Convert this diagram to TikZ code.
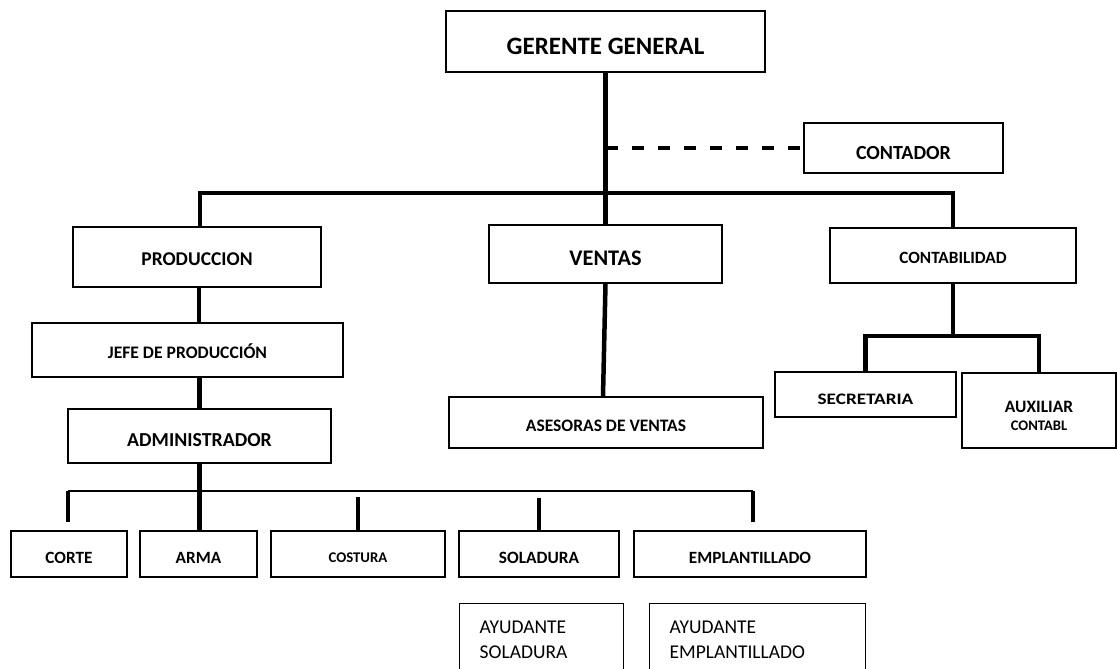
\documentclass[tikz,border=0pt]{standalone}
\usepackage{fontspec}
\setmainfont{Carlito}
\usepackage{graphicx}
\tikzset{
  box/.style={draw, line width=1.4pt, inner sep=0pt, text depth=0pt, font=\bfseries},
  conn/.style={line width=4.5pt},
  thinbus/.style={line width=1.5pt},
  dashconn/.style={line width=3.5pt, dash pattern=on 12pt off 14pt},
  helper/.style={draw, line width=1.4pt, anchor=north west, align=left, inner xsep=20pt, inner ysep=17pt, font=\fontsize{19.5}{25}\selectfont}
}
\begin{document}
\begin{tikzpicture}[x=1pt,y=-1pt]
\useasboundingbox (0,0) rectangle (1117,669);
\clip (0,0) rectangle (1117,669);
% boxes
\node[box, minimum width=319pt, minimum height=61pt, text height=27pt] (gg) at (605.5,41.5) {\fontsize{25}{30}\selectfont GERENTE GENERAL};
\node[box, minimum width=199pt, minimum height=50pt, text height=22pt] (contador) at (903.5,148) {\fontsize{20}{24}\selectfont CONTADOR\hspace{20pt}};
\node[box, minimum width=248pt, minimum height=60pt, text height=16.6pt] (prod) at (197,257) {\fontsize{19.5}{23}\selectfont PRODUCCION};
\node[box, minimum width=233pt, minimum height=58pt, text height=22.4pt] (ventas) at (605.5,254) {\fontsize{22.3}{26}\selectfont VENTAS};
\node[box, minimum width=246pt, minimum height=55pt, text height=16pt] (contab) at (953,255.5) {\fontsize{17.2}{20}\selectfont CONTABILIDAD};
\node[box, minimum width=311pt, minimum height=54pt, text height=16.3pt] (jefe) at (187.5,350) {\fontsize{17.6}{21}\selectfont JEFE DE PRODUCCIÓN};
\node[box, minimum width=263pt, minimum height=54pt, text height=21.7pt] (admin) at (199.5,436) {\fontsize{19.8}{24}\selectfont ADMINISTRADOR};
\node[box, minimum width=314pt, minimum height=51pt, text height=18.3pt] (asesoras) at (606,422.5) {\fontsize{17.5}{21}\selectfont ASESORAS DE VENTAS};
\node[box, minimum width=181pt, minimum height=45pt, text height=19.3pt] (secret) at (865.5,394.5) {\fontsize{16}{19}\selectfont\scalebox{1.2}[1]{SECRETARIA}\hspace{13pt}};
\node[box, minimum width=154pt, minimum height=75pt, text height=39pt] (aux) at (1039,410.5) {\vbox{\baselineskip=18pt\halign{\hfil#\hfil\cr\fontsize{17.4}{18}\selectfont AUXILIAR\cr\fontsize{14.6}{18}\selectfont CONTABL\cr}}};
\node[box, minimum width=116pt, minimum height=46pt, text height=19.6pt] (corte) at (69,554) {\fontsize{17.2}{20}\selectfont CORTE};
\node[box, minimum width=117pt, minimum height=46pt, text height=19.6pt] (arma) at (198.5,554) {\fontsize{17.2}{20}\selectfont ARMA};
\node[box, minimum width=174pt, minimum height=46pt, text height=16.5pt] (costura) at (358,554) {\fontsize{14.8}{18}\selectfont COSTURA};
\node[box, minimum width=160pt, minimum height=46pt, text height=19.6pt] (solad) at (539,554) {\fontsize{17.3}{20}\selectfont SOLADURA};
\node[box, minimum width=232pt, minimum height=46pt, text height=19.6pt] (empl) at (750,554) {\fontsize{17.2}{20}\selectfont EMPLANTILLADO};
\node[helper, text width=124pt] (aysol) at (459,603) {AYUDANTE\\SOLADURA};
\node[helper, text width=176pt] (ayemp) at (649,603) {AYUDANTE\\EMPLANTILLADO};
% bus coordinates
\coordinate (bus) at (605,193);
\coordinate (cbus) at (954,336);
\coordinate (abus) at (200,491);
% connectors
\draw[conn] (gg.south) -- (gg.south |- ventas.north);
\draw[dashconn] (gg.south |- contador.west) -- (contador.west);
\draw[conn] ([xshift=3pt]prod.north) |- (bus) -| (contab.north);
\draw[conn] ([xshift=2pt]prod.south) -- ([xshift=2pt]prod.south |- jefe.north);
\draw[conn] (admin.north |- jefe.south) -- (admin.north);
\draw[conn] (admin.south) -- (admin.south |- arma.north);
\draw[conn] (ventas.south) -- ([xshift=-3pt]asesoras.north);
\draw[conn] (contab.south) -- (contab.south |- cbus);
\draw[conn] (secret.north) |- (cbus) -| (aux.north);
\draw[thinbus] ([xshift=-1pt]corte.north |- abus) -- ([xshift=3pt]empl.north |- abus);
\draw[conn] ([xshift=-1pt]corte.north |- abus) -- ([xshift=-1pt,yshift=8pt]corte.north);
\draw[conn] ([yshift=33pt]costura.north) -- (costura.north);
\draw[conn] ([yshift=32pt]solad.north) -- (solad.north);
\draw[conn] ([xshift=3pt]empl.north |- abus) -- ([xshift=3pt,yshift=8pt]empl.north);
\end{tikzpicture}
\end{document}
